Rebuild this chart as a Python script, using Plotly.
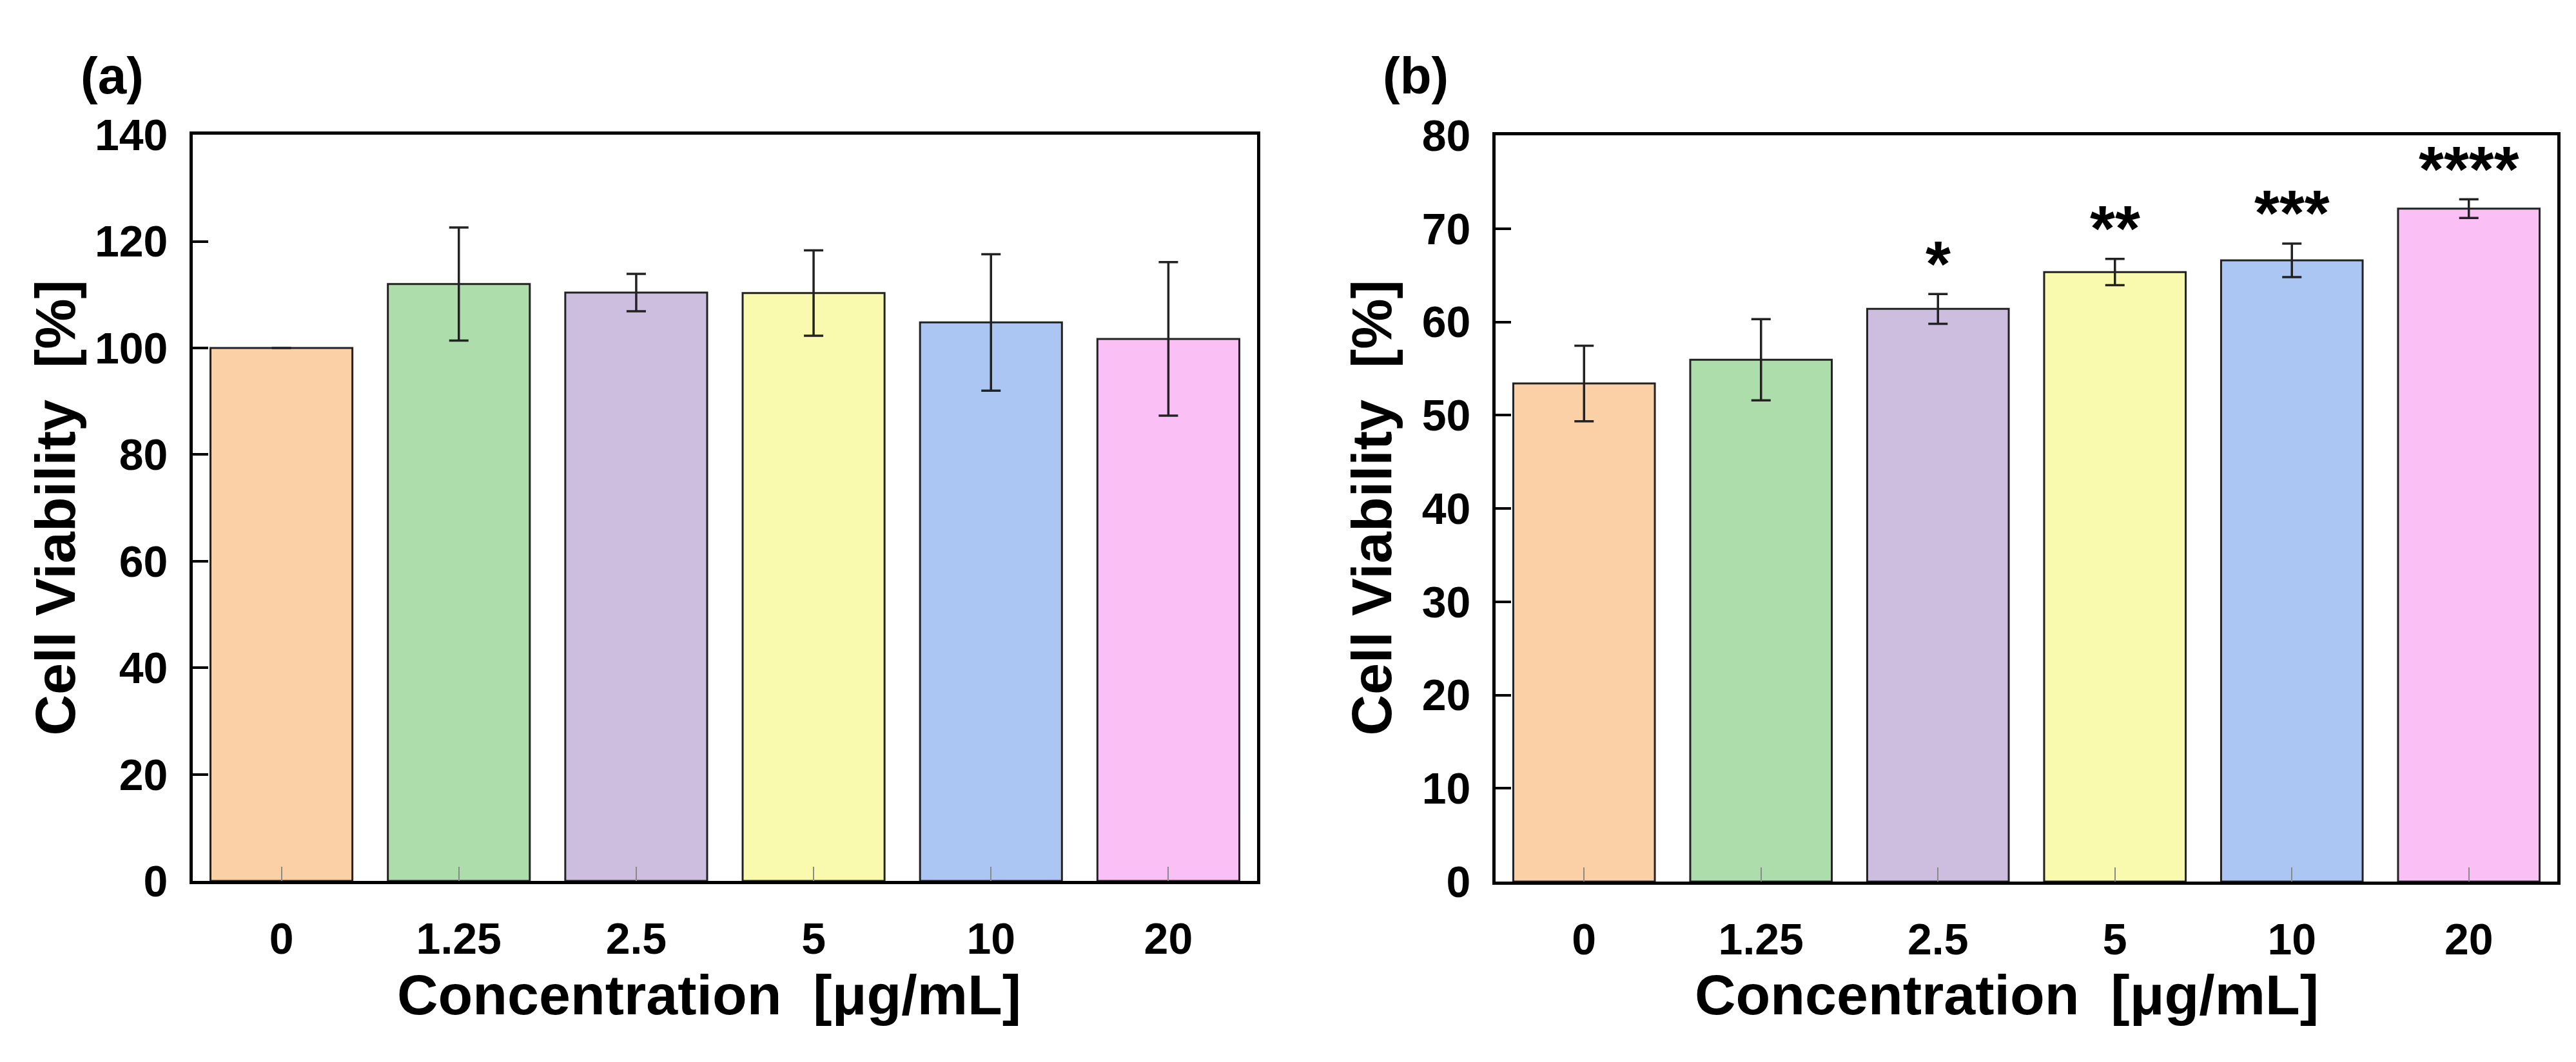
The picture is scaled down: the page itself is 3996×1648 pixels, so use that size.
import plotly.graph_objects as go

# ---------------- data ----------------
categories = ["0", "1.25", "2.5", "5", "10", "20"]

viability_a = [100.0, 112.0, 110.4, 110.3, 104.8, 101.7]
error_a = [0.0, 10.6, 3.5, 8.0, 12.8, 14.4]

viability_b = [53.4, 55.95, 61.4, 65.35, 66.6, 72.15]
error_b = [4.05, 4.35, 1.6, 1.4, 1.8, 1.0]
significance_b = ["", "", "*", "**", "***", "****"]

bar_colors = ["#FBD0A6", "#AEDDAC", "#CDBDDE", "#FAFAAF", "#ABC6F2", "#FAC0F6"]

y_ticks_a = [0, 20, 40, 60, 80, 100, 120, 140]
y_ticks_b = [0, 10, 20, 30, 40, 50, 60, 70, 80]

x_title = "Concentration\u00a0 [μg/mL]"
y_title = "Cell Viability\u00a0 [%]"
panel_labels = ["(a)", "(b)"]

# ---------------- layout constants (pixels) ----------------
W, H = 3996, 1648
FONT = "Liberation Sans, Arial, Helvetica, sans-serif"


def px_x(v):
    return v / W


def px_y(v):
    return 1 - v / H


fig = go.Figure()

for i, (vals, errs) in enumerate([(viability_a, error_a), (viability_b, error_b)]):
    suffix = "" if i == 0 else "2"
    fig.add_trace(go.Bar(
        x=list(range(len(categories))),
        y=vals,
        marker=dict(color=bar_colors, line=dict(color="#222222", width=3)),
        error_y=dict(type="data", array=errs, visible=True,
                     color="#222222", thickness=3.5, width=15),
        width=0.8,
        xaxis="x" + suffix,
        yaxis="y" + suffix,
        showlegend=False,
    ))

axis_common = dict(
    showline=True, linecolor="black", linewidth=5, mirror=True,
    showgrid=False, zeroline=False,
    tickfont=dict(family=FONT, size=68, color="black", weight=700),
)

x_common = dict(
    axis_common,
    tickmode="array",
    tickvals=list(range(len(categories))),
    ticktext=categories,
    range=[-0.5, len(categories) - 0.5],
    ticks="inside", ticklen=22, tickwidth=1.5, tickcolor="#8a8a8a",
    ticklabelstandoff=26,
)

y_common = dict(
    axis_common,
    ticks="inside", ticklen=24, tickwidth=4, tickcolor="black",
    ticklabelstandoff=20,
)

fig.update_layout(
    width=W, height=H,
    margin=dict(l=0, r=0, t=0, b=0),
    paper_bgcolor="white", plot_bgcolor="white",
    bargap=0.2,
    xaxis=dict(x_common, domain=[px_x(291), px_x(1942)], anchor="y"),
    yaxis=dict(y_common, domain=[px_y(1385), px_y(171)], anchor="x",
               range=[0, y_ticks_a[-1]], tickvals=y_ticks_a),
    xaxis2=dict(x_common, domain=[px_x(2312), px_x(3959)], anchor="y2"),
    yaxis2=dict(y_common, domain=[px_y(1386), px_y(172)], anchor="x2",
                range=[0, y_ticks_b[-1]], tickvals=y_ticks_b),
)

annotations = []

# significance stars on panel (b)
for idx, (stars, v, e) in enumerate(zip(significance_b, viability_b, error_b)):
    if stars:
        annotations.append(dict(
            x=idx, y=v + e + 1.9, xref="x2", yref="y2",
            text=stars, showarrow=False, xanchor="center", yanchor="middle",
            yshift=20,
            font=dict(family=FONT, size=100, color="black", weight=700),
        ))

# panel letters
for lab, cx in zip(panel_labels, [166, 2188]):
    annotations.append(dict(
        x=px_x(cx), y=px_y(75), xref="paper", yref="paper",
        text=lab, showarrow=False, xanchor="center", yanchor="middle",
        font=dict(family=FONT, size=80, color="black", weight=700),
    ))

# axis titles
for cx in [77.5, 2119.5]:
    annotations.append(dict(
        x=px_x(cx), y=px_y(778), xref="paper", yref="paper",
        text=y_title, showarrow=False, textangle=-90,
        xanchor="center", yanchor="middle",
        font=dict(family=FONT, size=88, color="black", weight=700),
    ))
for cx in [1092, 3105]:
    annotations.append(dict(
        x=px_x(cx), y=px_y(1570), xref="paper", yref="paper",
        text=x_title, showarrow=False,
        xanchor="center", yanchor="middle",
        font=dict(family=FONT, size=88, color="black", weight=700),
    ))

fig.update_layout(annotations=annotations)

fig.write_html("out.html")
